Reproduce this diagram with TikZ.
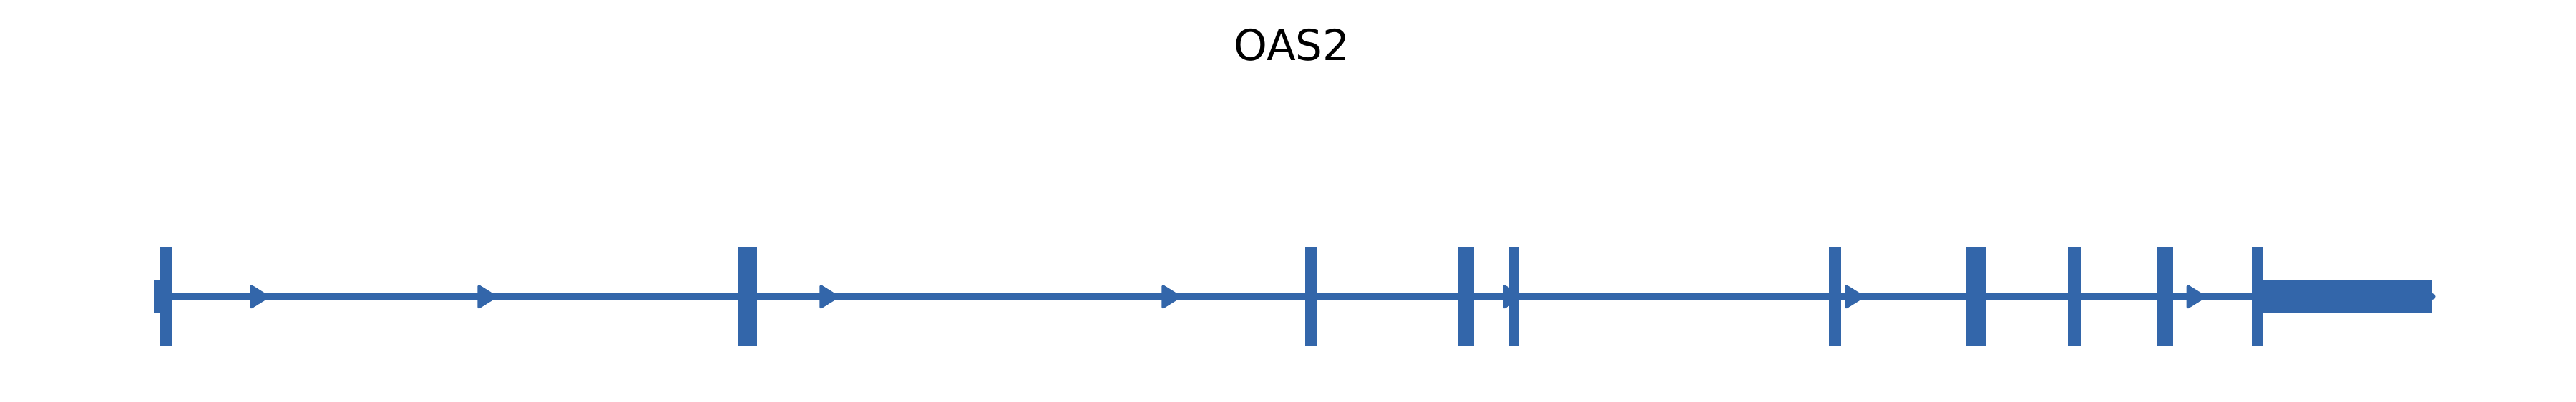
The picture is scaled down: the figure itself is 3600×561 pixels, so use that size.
\documentclass[tikz,border=0pt]{standalone}
\usepackage{fontspec}
\setmainfont{DejaVu Sans}
\definecolor{genecol}{RGB}{51,102,170}
\begin{document}
\begin{tikzpicture}[x=0.2pt,y=-0.2pt,
  intron/.style={draw=genecol,line width=1.8pt,line cap=round},
  exonbar/.style={fill=genecol},
  dirarrow/.style={fill=genecol,draw=genecol,line width=0.8pt,line join=round},
  titletext/.style={font=\fontsize{11.9pt}{14pt}\selectfont,text=black,inner sep=0pt,anchor=base}]
\useasboundingbox (0,0) rectangle (3600,561);
\fill[white] (0,0) rectangle (3600,561);
% title
\node[titletext] (title) at (1805.5,84.5) {OAS2};
% intron line
\coordinate (gstart) at (219.5,414.8);
\coordinate (gend) at (3399,414.8);
\draw[intron] (gstart) -- (gend);
% UTRs
\fill[exonbar] (215,391.7) rectangle (224,437.7);
\fill[exonbar] (3162.3,391.7) rectangle (3399,437.7);
% coding exons
\foreach \a/\b in {224/240.7,1032/1058,1824/1841,2037/2060,2108.7/2122.7,
                   2556.3/2572.7,2748.3/2776,2890/2908,3014/3036.7,3146.7/3162.3}
  \fill[exonbar] (\a,345.7) rectangle (\b,483.7);
% direction arrows
\foreach \s in {349.3,667.3,1145.3,1623.3,2100.3,2578.3,3055.7}
  \filldraw[dirarrow] (\s+2,400.3) -- (\s+25.4,414.8) -- (\s+2,429.3) -- cycle;
\end{tikzpicture}
\end{document}
